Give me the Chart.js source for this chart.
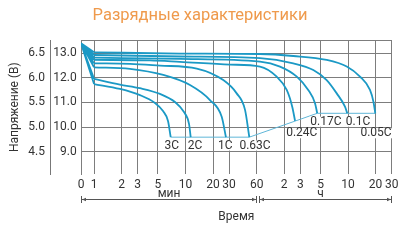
<!DOCTYPE html>
<html><head><meta charset="utf-8">
<script src="https://cdn.jsdelivr.net/npm/chart.js@4/dist/chart.umd.min.js"></script>
<style>html,body{margin:0;padding:0;background:#fff;}canvas{display:block;}</style>
</head><body>
<canvas id="c" width="400" height="250"></canvas>
<script>
// ---------- data ----------
const rateLabels = ['3C', '2C', '1C', '0.63C', '0.24C', '0.17C', '0.1C', '0.05C'];
const startTime = 0.72;      // position of "0" on the time axis (minutes)
const startVoltage = 13.41;

const t3C = [1.0, 1.92, 3.18, 4.64, 5.68, 6.44, 6.89];
const v3C = [11.75, 11.55, 11.30, 10.98, 10.65, 10.25, 9.59];
const t2C = [1.0, 1.92, 3.18, 5.26, 7.68, 9.63, 10.93, 11.4];
const v2C = [11.96, 11.73, 11.58, 11.35, 11.02, 10.61, 10.13, 9.59];
const t1C = [1.0, 2.47, 5.72, 11.2, 18.5, 24.9, 27.7];
const v1C = [12.43, 12.37, 12.12, 11.71, 11.10, 10.42, 9.59];
const t063C = [1.0, 2.47, 5.26, 13.3, 25.9, 36.3, 44.8, 49.9];
const v063C = [12.59, 12.57, 12.50, 12.38, 11.91, 11.37, 10.70, 9.59];
const t024C = [1.0, 4.09, 8.71, 30.7, 65.3, 99.4, 128, 147, 158];
const v024C = [12.73, 12.71, 12.65, 12.54, 12.46, 12.05, 11.51, 10.83, 10.25];
const t017C = [1.0, 8.71, 65.3, 108, 165, 220, 261, 276];
const v017C = [12.82, 12.77, 12.66, 12.46, 12.05, 11.51, 10.97, 10.56];
const t01C = [1.0, 8.71, 65.3, 151, 250, 350, 451, 555, 588];
const v01C = [12.93, 12.87, 12.80, 12.59, 12.32, 11.91, 11.37, 10.83, 10.56];
const t005C = [1.0, 8.71, 65.3, 151, 350, 580, 810, 1042, 1138, 1191];
const v005C = [13.04, 12.99, 12.97, 12.89, 12.73, 12.46, 12.05, 11.51, 11.02, 10.56];

const cutoffTimes = [6.89, 49.9, 276, 1191];
const cutoffVolts = [9.59, 9.59, 10.56, 10.56];

const xTickValues = [0.72, 1, 2, 3, 5, 10, 20, 30, 60, 120, 180, 300, 600, 1200, 1800];
const xTickLabels = ['0', '1', '2', '3', '5', '10', '20', '30', '60', '2', '3', '5', '10', '20', '30'];
const yTickValues = [9, 10, 11, 12, 13];
const y6TickValues = [4.5, 5, 5.5, 6, 6.5];
const spanFrom = [0.72, 60];
const spanTo = [60, 1800];
const spanLabels = ['мин', 'ч'];

// ---------- style ----------
const FONT = 'Roboto, "Liberation Sans", sans-serif';
const LINE = '#1b99c5';
const GRID = '#7d7d7d';
const TEXT = '#333333';
const Y_MIN = 8.08, Y_MAX = 13.54;
const labelOffsets = [[1, 8.4], [4.3, 8.4], [-0.7, 8.4], [5.7, 8.4], [6.7, 12.3], [8.7, 8.4], [10.7, 8.4], [0.7, 20]];

const curveTimes = [t3C, t2C, t1C, t063C, t024C, t017C, t01C, t005C];
const curveVolts = [v3C, v2C, v1C, v063C, v024C, v017C, v01C, v005C];

const datasets = curveTimes.map((ts, i) => ({
  label: rateLabels[i],
  data: ts.map((t, j) => ({x: t, y: curveVolts[i][j]})),
  borderColor: LINE, borderWidth: 1.8, pointRadius: 0,
  cubicInterpolationMode: 'monotone', fill: false
}));
const fan = [];
curveTimes.forEach((ts, i) => {
  fan.push({x: startTime, y: startVoltage});
  fan.push({x: ts[0], y: curveVolts[i][0]});
});
datasets.push({label: 'start', data: fan, borderColor: LINE, borderWidth: 1.8, pointRadius: 0, tension: 0, borderJoinStyle: 'miter'});
datasets.push({label: 'cutoff', data: cutoffTimes.map((t, i) => ({x: t, y: cutoffVolts[i]})),
  borderColor: '#5fb6d8', borderWidth: 1, pointRadius: 0, tension: 0});

const annot = {
  id: 'annot',
  afterDatasetsDraw(chart) {
    const {ctx, scales: {x, y}} = chart;
    ctx.save();
    ctx.font = '12px ' + FONT;
    ctx.textAlign = 'center';
    ctx.textBaseline = 'middle';
    rateLabels.forEach((lab, i) => {
      const ts = curveTimes[i], vs = curveVolts[i];
      const px = x.getPixelForValue(ts[ts.length - 1]) + labelOffsets[i][0];
      const py = y.getPixelForValue(vs[vs.length - 1]) + labelOffsets[i][1];
      const w = ctx.measureText(lab).width;
      ctx.fillStyle = '#fff';
      ctx.fillRect(px - w / 2 - 1, py - 5, w + 2, 10);
      ctx.fillStyle = TEXT;
      ctx.fillText(lab, px, py);
    });
    // time spans
    const ly = 199;
    ctx.strokeStyle = '#555'; ctx.fillStyle = '#555'; ctx.lineWidth = 1;
    spanLabels.forEach((lab, i) => {
      let x0 = x.getPixelForValue(spanFrom[i]);
      let x1 = x.getPixelForValue(spanTo[i]);
      if (i > 0) x0 += 2.5;
      x0 = Math.round(x0) + 0.5; x1 = Math.round(x1) - 0.5;
      ctx.beginPath();
      ctx.moveTo(x0, ly + 0.5); ctx.lineTo(x1, ly + 0.5);
      ctx.moveTo(x0, ly - 3); ctx.lineTo(x0, ly + 4);
      ctx.moveTo(x1, ly - 3); ctx.lineTo(x1, ly + 4);
      ctx.stroke();
      ctx.beginPath();
      ctx.moveTo(x0 + 0.5, ly + 0.5); ctx.lineTo(x0 + 4.5, ly - 1.3); ctx.lineTo(x0 + 4.5, ly + 2.3); ctx.closePath();
      ctx.moveTo(x1 - 0.5, ly + 0.5); ctx.lineTo(x1 - 4.5, ly - 1.3); ctx.lineTo(x1 - 4.5, ly + 2.3); ctx.closePath();
      ctx.fill();
      ctx.fillStyle = TEXT;
      ctx.textBaseline = 'alphabetic';
      const cx = i === 0 ? (x0 + x1) / 2 : x.getPixelForValue(300);
      ctx.fillText(lab, cx, ly - 2);
      ctx.fillStyle = '#555';
    });
    ctx.restore();
  }
};

Chart.defaults.font.family = FONT;
new Chart(document.getElementById('c'), {
  type: 'line',
  data: {datasets},
  options: {
    responsive: false, animation: false,
    layout: {padding: 0},
    plugins: {
      legend: {display: false}, tooltip: {enabled: false},
      title: {display: true, text: 'Разрядные характеристики', color: '#ef9a4c',
        font: {family: FONT, size: 16.5, weight: 'normal'}, padding: {top: 6.1, bottom: 14.1}}
    },
    scales: {
      x: {
        type: 'logarithmic', min: startTime, max: 1800, bounds: 'data',
        afterBuildTicks: s => { s.ticks = xTickValues.map(v => ({value: v})); },
        afterFit: s => { s.height = 75.7; s.paddingRight = 8.3; },
        ticks: {autoSkip: false, maxRotation: 0, minRotation: 0, padding: 3.5, color: TEXT,
          font: {size: 12}, callback: (v, i) => xTickLabels[i]},
        grid: {color: GRID, lineWidth: 1, drawTicks: false},
        border: {display: false},
        title: {display: true, text: 'Время', color: TEXT, font: {size: 12}, padding: {top: 0, bottom: 26}}
      },
      y: {
        position: 'left', weight: 0, min: Y_MIN, max: Y_MAX,
        afterBuildTicks: s => { s.ticks = [...yTickValues, Y_MAX].map(v => ({value: v})); },
        afterFit: s => { s.width = 30.3; },
        ticks: {padding: 4.3, color: TEXT, font: {size: 12},
          callback: v => yTickValues.includes(v) ? v.toFixed(1) : ''},
        grid: {color: GRID, lineWidth: 1, drawTicks: false},
        border: {display: true, color: GRID, width: 1}
      },
      y2: {
        position: 'left', weight: 1, min: Y_MIN / 2, max: Y_MAX / 2,
        afterBuildTicks: s => { s.ticks = y6TickValues.map(v => ({value: v})); },
        afterFit: s => { s.width = 50.7; },
        ticks: {padding: 5.7, color: TEXT, font: {size: 12}, callback: v => v.toFixed(1)},
        grid: {display: false, drawTicks: false},
        border: {display: true, color: '#777', width: 1},
        title: {display: true, text: 'Напряжение (В)', color: TEXT, font: {size: 12}, padding: {top: 7.8, bottom: 0}}
      }
    }
  },
  plugins: [annot]
});
</script>
</body></html>
